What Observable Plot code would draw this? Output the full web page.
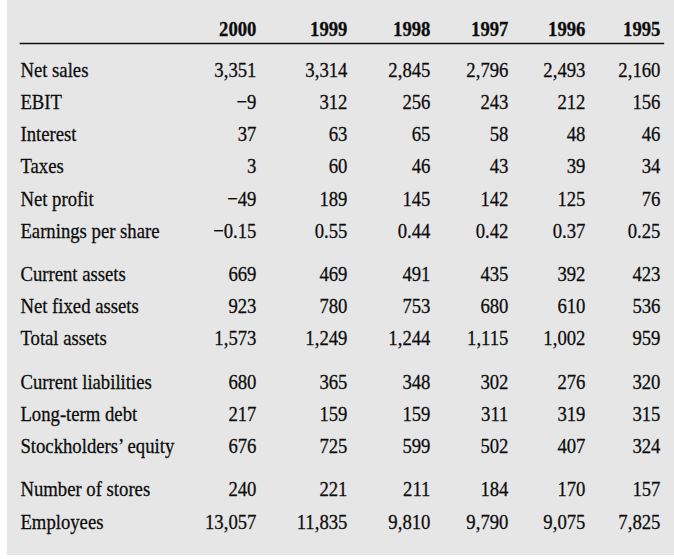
<!DOCTYPE html>
<html>
<head>
<meta charset="utf-8">
<script src="https://cdn.jsdelivr.net/npm/d3@7"></script>
<script src="https://cdn.jsdelivr.net/npm/@observablehq/plot@0.6"></script>
<style>
  html, body { margin: 0; padding: 0; background: #ffffff; }
  #wrap { position: relative; width: 674px; height: 559px; overflow: hidden; }
  #panel { position: absolute; left: 7px; top: 0; width: 667px; height: 555px; background: #e6e6e6; }
  #chart { position: absolute; left: 0; top: 0; transform-origin: 0 0; }
  #chart svg { max-width: none !important; height: 559px !important; display: block; }
</style>
</head>
<body>
<div id="wrap"><div id="panel"></div><div id="chart"></div></div>
<script>
const years = ["2000", "1999", "1998", "1997", "1996", "1995"];

const rowLabels = [
  "Net sales", "EBIT", "Interest", "Taxes", "Net profit", "Earnings per share",
  "Current assets", "Net fixed assets", "Total assets",
  "Current liabilities", "Long-term debt", "Stockholders\u2019 equity",
  "Number of stores", "Employees"
];
const rowGroups = [0, 0, 0, 0, 0, 0, 1, 1, 1, 2, 2, 2, 3, 3];

const netSales = [3351, 3314, 2845, 2796, 2493, 2160];
const ebit = [-9, 312, 256, 243, 212, 156];
const interest = [37, 63, 65, 58, 48, 46];
const taxes = [3, 60, 46, 43, 39, 34];
const netProfit = [-49, 189, 145, 142, 125, 76];
const earningsPerShare = [-0.15, 0.55, 0.44, 0.42, 0.37, 0.25];
const currentAssets = [669, 469, 491, 435, 392, 423];
const netFixedAssets = [923, 780, 753, 680, 610, 536];
const totalAssets = [1573, 1249, 1244, 1115, 1002, 959];
const currentLiabilities = [680, 365, 348, 302, 276, 320];
const longTermDebt = [217, 159, 159, 311, 319, 315];
const stockholdersEquity = [676, 725, 599, 502, 407, 324];
const numberOfStores = [240, 221, 211, 184, 170, 157];
const employees = [13057, 11835, 9810, 9790, 9075, 7825];

const rowValues = [
  netSales, ebit, interest, taxes, netProfit, earningsPerShare,
  currentAssets, netFixedAssets, totalAssets,
  currentLiabilities, longTermDebt, stockholdersEquity,
  numberOfStores, employees
];

// layout: row slot = row index + extra gap between groups
const groupGap = 0.34;
const fmtInt = d3.format(",");
const fmtDec = d3.format(".2f");
const fmt = (v, label) => (label === "Earnings per share" ? fmtDec(v) : fmtInt(v)).replace("-", "\u2013");

const rows = rowLabels.map((label, i) => ({label, slot: i + rowGroups[i] * groupGap}));
const cells = [];
rowLabels.forEach((label, i) => {
  rowValues[i].forEach((v, j) => {
    cells.push({year: years[j], slot: i + rowGroups[i] * groupGap, text: fmt(v, label)});
  });
});
const maxSlot = d3.max(rows, d => d.slot);

// the reference type is tall and narrow: draw wider, then squeeze horizontally
const sx = 0.85;
const fs = 22;
const W = Math.round(674 / sx);
const colRight = [256, 347, 430, 508, 585, 660];
const ink = "#0d0d0d";
const textStyle = {fontSize: fs, fill: ink, stroke: ink, strokeWidth: 0.3};

const chart = Plot.plot({
  width: W,
  height: 559,
  marginTop: 43,
  marginLeft: 20 / sx,
  marginRight: W - 663 / sx,
  marginBottom: 4,
  style: {background: "transparent", fontFamily: "'Liberation Serif', 'Times New Roman', serif", fontSize: fs + "px", color: ink},
  x: {type: "ordinal", domain: years, range: colRight.map(v => v / sx), axis: null},
  y: {type: "linear", domain: [0, maxSlot], range: [69, 521], axis: null},
  marks: [
    Plot.frame({anchor: "top", stroke: ink, strokeWidth: 1.7}),
    Plot.text(years, {x: d => d, frameAnchor: "top", dy: -8, lineAnchor: "bottom", textAnchor: "end", text: d => d, fontWeight: "bold", ...textStyle}),
    Plot.text(rows, {y: "slot", frameAnchor: "left", textAnchor: "start", text: "label", ...textStyle}),
    Plot.text(cells, {x: "year", y: "slot", textAnchor: "end", text: "text", ...textStyle})
  ]
});
const holder = document.getElementById("chart");
holder.style.width = W + "px";
holder.style.height = "559px";
holder.style.transform = `scaleX(${sx})`;
holder.appendChild(chart);
</script>
</body>
</html>
